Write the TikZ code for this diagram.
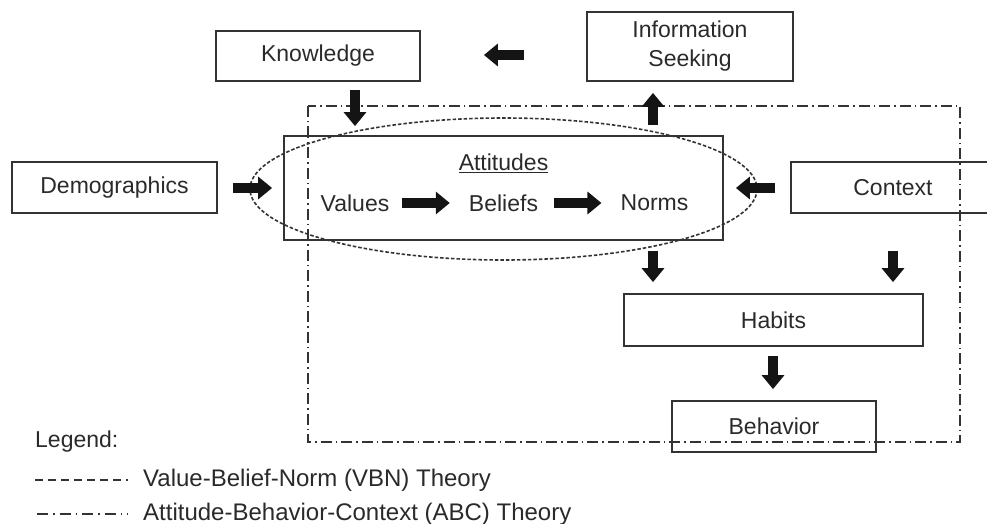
\documentclass[tikz,border=0pt]{standalone}
\usepackage{fontspec}
\setmainfont{Liberation Sans}
\usetikzlibrary{arrows.meta}
\definecolor{ln}{HTML}{333333}
\definecolor{tx}{HTML}{2A2A2A}
\begin{document}
\begin{tikzpicture}[x=1pt,y=-1pt,
  every node/.style={text=tx, font=\fontsize{23}{29}\selectfont},
  box/.style={draw=ln, line width=1.8pt, align=center, inner sep=0pt},
  lbl/.style={inner sep=0pt},
  blk/.style={draw=black!92, line width=10pt, -{Triangle[length=14pt,width=22pt]}},
  abc/.style={draw=ln, line width=2pt, dash pattern=on 11pt off 4pt on 1.5pt off 4pt},
  vbn/.style={draw=ln, line width=1.6pt, dash pattern=on 3.5pt off 2pt}]
\useasboundingbox (0,0) rectangle (987,524);

% ABC frame
\draw[abc] (308,106) rectangle (960,442);

% boxes
\node[box, minimum width=204pt, minimum height=50pt] (know) at (318,56) {Knowledge};
\node[box, minimum width=206pt, minimum height=69pt] (info) at (690,46.5) {Information\\Seeking};
\node[box, minimum width=205pt, minimum height=51pt] (demo) at (114.5,187.5) {Demographics};
\node[box, minimum width=439pt, minimum height=104pt] (att) at (503.5,188) {};
\node[box, minimum width=204pt, minimum height=51pt, text width=202pt] (ctx) at (893,187.5) {Context};
\node[box, minimum width=299pt, minimum height=52pt] (hab) at (773.5,320) {Habits};
\node[box, minimum width=204pt, minimum height=51pt] (beh) at (774,426.5) {Behavior};

% VBN ellipse
\draw[vbn] (503.5,189) ellipse [x radius=253.5, y radius=71];

% inside attitudes
\node[lbl] (atl) at (503.5,163) {\underline{Attitudes}};
\node[lbl] (vals) at (355,203) {Values};
\node[lbl] (bel) at (503.5,203) {Beliefs};
\node[lbl] (nor) at (654.5,203) {Norms};

% block arrows
\draw[blk, shorten <=8pt, shorten >=9pt] (know.south -| 355,0) -- (att.north -| 355,0);
\draw[blk, shorten <=62pt, shorten >=63pt] (info.west |- 0,55) -- (know.east |- 0,55);
\draw[blk, shorten <=10pt, shorten >=11pt] (att.north -| 653,0) -- (info.south -| 653,0);
\draw[blk, shorten <=15pt, shorten >=11pt] (demo.east |- 0,188) -- (att.west |- 0,188);
\draw[blk, shorten <=15pt, shorten >=12pt] (ctx.west |- 0,188) -- (att.east |- 0,188);
\draw[blk, shorten <=12pt, shorten >=19pt] (vals.east |- 0,203) -- (bel.west |- 0,203);
\draw[blk, shorten <=16pt, shorten >=19pt] (bel.east |- 0,203) -- (nor.west |- 0,203);
\draw[blk, shorten <=10pt, shorten >=11pt] (att.south -| 653,0) -- (hab.north -| 653,0);
\draw[blk, shorten <=37pt, shorten >=11pt] (ctx.south -| 893,0) -- (hab.north -| 893,0);
\draw[blk, shorten <=9pt, shorten >=11pt] (hab.south -| 773,0) -- (beh.north -| 773,0);

% legend
\node[lbl, anchor=west] (leg) at (35,442) {Legend:};
\draw[vbn, line width=1.4pt, dash pattern=on 8pt off 5pt] (35,480) -- (128,480);
\node[lbl, anchor=west, font=\fontsize{24}{29}\selectfont] (l1) at (143,480) {Value-Belief-Norm (VBN) Theory};
\draw[abc, line width=1.6pt, dash pattern=on 11pt off 5pt on 1.5pt off 5pt] (37,514) -- (128,514);
\node[lbl, anchor=west, font=\fontsize{24}{29}\selectfont] (l2) at (143,514) {Attitude-Behavior-Context (ABC) Theory};
\end{tikzpicture}
\end{document}
